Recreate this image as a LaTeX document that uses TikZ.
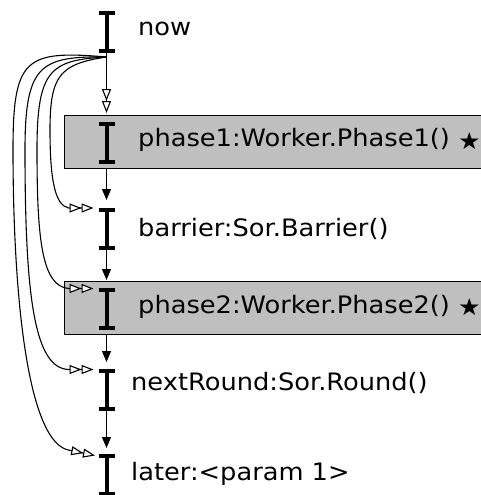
\documentclass[tikz,border=0pt]{standalone}
\usepackage{fontspec}
\setmainfont{DejaVu Sans}[FakeStretch=1.07]
\usetikzlibrary{arrows.meta}
\definecolor{boxgray}{gray}{0.75}
\begin{document}
\begin{tikzpicture}[x=1pt,y=1pt,
  beam/.style={minimum width=16pt,minimum height=38pt,inner sep=0pt,outer sep=0pt},
  ibar/.style={line width=4pt},
  phasebox/.style={draw=black,line width=0.8pt,fill=boxgray,minimum width=418pt,minimum height=53pt,anchor=north west,inner sep=0pt,outer sep=0pt},
  lbl/.style={anchor=base west,inner sep=0pt,font=\fontsize{24}{28}\selectfont},
  flow/.style={line width=1.1pt,-{Triangle[length=11pt,width=9pt]}},
  spawn/.style={line width=1.1pt,-{Triangle[length=12pt,width=9pt,fill=white]Triangle[length=12pt,width=9pt,fill=white]}},
]
\useasboundingbox (0,0) rectangle (480,-495);
% phase boxes
\node[phasebox] (p1box) at (64,-115) {};
\node[phasebox] (p2box) at (64,-281) {};
% time markers
\node[beam] (now) at (106.5,-32) {};
\node[beam] (ph1) at (106.5,-143) {};
\node[beam] (bar) at (106.5,-228.5) {};
\node[beam] (ph2) at (106.5,-309) {};
\node[beam] (nxt) at (106.5,-390) {};
\node[beam] (lat) at (106.5,-474.5) {};
\foreach \b in {now,ph1,bar,ph2,nxt,lat}
  \draw[ibar] (\b.north west) -- (\b.north east) (\b.south west) -- (\b.south east) (\b.north) -- (\b.south);
% labels
\node[lbl] (tph1) at (138,-146.5) {phase1:Worker.Phase1() {\fontsize{23.5}{23.5}\selectfont\raisebox{-2.5pt}{★}}};
\node[lbl] (tnow) at (138,-36) {now};
\node[lbl] (tbar) at (138,-236.5) {barrier:Sor.Barrier()};
\node[lbl] (tph2) at (138,-313) {phase2:Worker.Phase2() {\fontsize{23.5}{23.5}\selectfont\raisebox{-2.5pt}{★}}};
\node[lbl] (tnxt) at (131,-390) {nextRound:Sor.Round()};
\node[lbl] (tlat) at (131,-480) {later:<param 1>};
% sequential flow
\coordinate (fork) at ([yshift=-6pt]now.south);
\draw[spawn,shorten >=2pt] (now.south) -- (now.south |- p1box.north);
\draw[flow,shorten >=9.5pt] (p1box.south -| ph1.south) -- (bar.north);
\draw[flow,shorten >=1pt] (bar.south) -- (bar.south |- p2box.north);
\draw[flow,shorten >=9pt] (p2box.south -| nxt.south) -- (nxt.north);
\draw[flow,shorten >=7.5pt] (nxt.south) -- (lat.north);
% spawn curves
\draw[spawn] (fork) .. controls (60,-64) and (50,-75) .. (50,-130)
  .. controls (50,-180) and (55,-205) .. ([xshift=-30pt,yshift=1.5pt]bar.north west)
  -- ([xshift=-5pt,yshift=1.5pt]bar.north west);
\draw[spawn] (fork) .. controls (50,-60) and (37,-70) .. (37,-150)
  .. controls (37,-240) and (42,-286) .. ([xshift=-30pt,yshift=1.5pt]ph2.north west)
  -- ([xshift=-5pt,yshift=1.5pt]ph2.north west);
\draw[spawn] (fork) .. controls (40,-56) and (25,-65) .. (25,-150)
  .. controls (25,-300) and (35,-368) .. ([xshift=-30pt,yshift=1.5pt]nxt.north west)
  -- ([xshift=-5pt,yshift=1.5pt]nxt.north west);
\draw[spawn] (fork) .. controls (25,-50) and (13,-58) .. (13,-150)
  .. controls (13,-280) and (25,-445) .. ([xshift=-28pt,yshift=5pt]lat.north west)
  -- ([xshift=-3.5pt]lat.north west);
\end{tikzpicture}
\end{document}
